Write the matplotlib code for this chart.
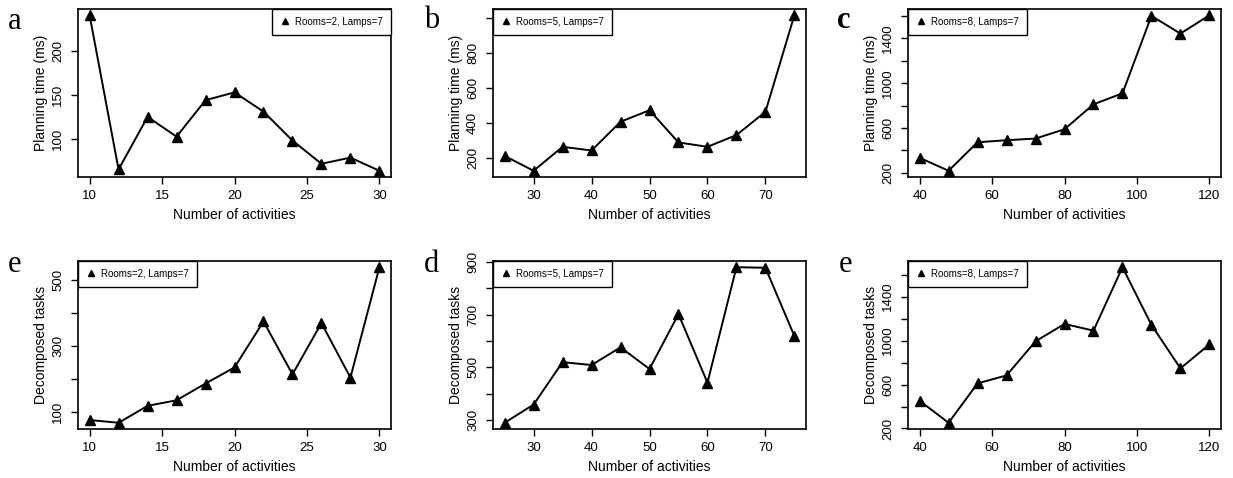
import matplotlib.pyplot as plt
from matplotlib.lines import Line2D

plt.rcParams['font.family'] = ['Liberation Sans', 'DejaVu Sans']

# x values (number of activities) for the three room settings
x_r2 = [10, 12, 14, 16, 18, 20, 22, 24, 26, 28, 30]
x_r5 = [25, 30, 35, 40, 45, 50, 55, 60, 65, 70, 75]
x_r8 = [40, 48, 56, 64, 72, 80, 88, 96, 104, 112, 120]

# planning time (ms)
time_r2 = [241, 65, 125, 102.5, 144, 153, 131, 98, 71.5, 78.5, 63.5]
time_r5 = [211, 126, 263, 242, 406, 472, 288, 263, 330, 463, 1015]
time_r8 = [334, 218, 473, 491, 506, 589, 812, 910, 1602, 1444, 1608]

# decomposed tasks
tasks_r2 = [75, 66.5, 118, 135, 186, 235, 375, 214, 370, 204, 540]
tasks_r5 = [290, 359, 520, 509, 576, 494, 702, 442, 880, 878, 619]
tasks_r8 = [452, 252, 610, 683, 993, 1151, 1090, 1667, 1142, 747, 965]

labels = ["Rooms=2, Lamps=7", "Rooms=5, Lamps=7", "Rooms=8, Lamps=7"]
letters = ["a", "b", "c", "e", "d", "e"]

panels = [
    (x_r2, time_r2, "Planning time (ms)", labels[0], "upper right",
     [10, 15, 20, 25, 30], [100, 150, 200], [100, 150, 200]),
    (x_r5, time_r5, "Planning time (ms)", labels[1], "upper left",
     [30, 40, 50, 60, 70], [200, 400, 600, 800, 1000], [200, 400, 600, 800]),
    (x_r8, time_r8, "Planning time (ms)", labels[2], "upper left",
     [40, 60, 80, 100, 120], [200, 400, 600, 800, 1000, 1200, 1400, 1600], [200, 600, 1000, 1400]),
    (x_r2, tasks_r2, "Decomposed tasks", labels[0], "upper left",
     [10, 15, 20, 25, 30], [100, 200, 300, 400, 500], [100, 300, 500]),
    (x_r5, tasks_r5, "Decomposed tasks", labels[1], "upper left",
     [30, 40, 50, 60, 70], [300, 400, 500, 600, 700, 800, 900], [300, 500, 700, 900]),
    (x_r8, tasks_r8, "Decomposed tasks", labels[2], "upper left",
     [40, 60, 80, 100, 120], [200, 400, 600, 800, 1000, 1200, 1400, 1600], [200, 600, 1000, 1400]),
]

W, H = 1233, 478
fig = plt.figure(figsize=(W / 100, H / 100), dpi=100)

lefts = [78, 493, 908]
tops = [9, 261]
aw, ah = 313, 168

letter_pos = [(8, 29), (424, 28), (837, 28), (8, 272), (424, 272), (839, 272)]

for i, (x, y, ylab, leg, loc, xt, yt, ylabeled) in enumerate(panels):
    row, col = divmod(i, 3)
    l, t = lefts[col], tops[row]
    ax = fig.add_axes([l / W, 1 - (t + ah) / H, aw / W, ah / H])
    ax.plot(x, y, color="black", lw=1.4, marker="^", markersize=7)
    ax.margins(0.04)
    ax.set_xticks(xt)
    ax.set_yticks(yt)
    ax.set_yticklabels([str(v) if v in ylabeled else "" for v in yt])
    ax.tick_params(length=5, width=1, pad=4.5, labelsize=9.5)
    ax.tick_params(axis="y", labelrotation=90, pad=5)
    for lab in ax.get_yticklabels():
        lab.set_va("center")
    for s in ax.spines.values():
        s.set_linewidth(1.2)
    ax.set_xlabel("Number of activities", fontsize=10, labelpad=4)
    ax.set_ylabel(ylab, fontsize=10, labelpad=3)
    h = Line2D([], [], color="black", marker="^", ls="none", markersize=4.5)
    lg = ax.legend([h], [leg], loc=loc, borderaxespad=0, fancybox=False,
                   edgecolor="black", framealpha=1, fontsize=7, handlelength=1,
                   handletextpad=0.6, borderpad=0.8)
    lg.get_frame().set_linewidth(1.0)
    px, py = letter_pos[i]
    fig.text(px / W, 1 - py / H, letters[i], family="Liberation Serif",
             fontsize=22, va="baseline", ha="left",
             fontweight="bold" if letters[i] == "c" else "normal")

fig.savefig("out.png", dpi=100)
